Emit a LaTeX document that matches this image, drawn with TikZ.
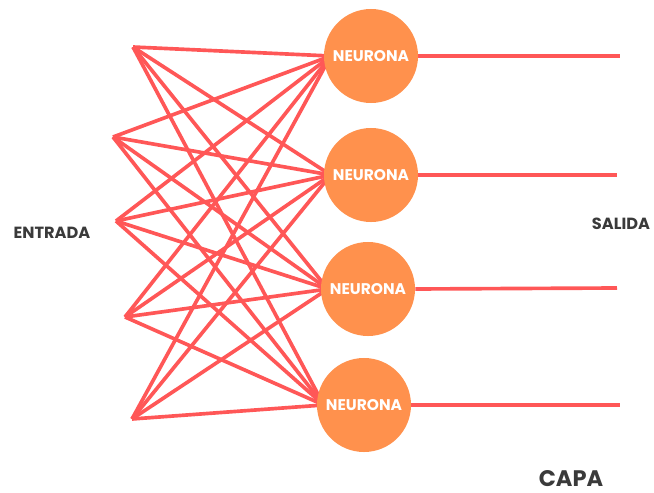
\documentclass[tikz,border=0pt]{standalone}
\usepackage{fontspec}
\setmainfont{Poppins}
\usetikzlibrary{backgrounds}
\definecolor{linea}{HTML}{FF5757}
\definecolor{naranja}{HTML}{FF914D}
\definecolor{texto}{HTML}{3A3A3A}
\begin{document}
\begin{tikzpicture}[x=0.025cm,y=-0.025cm,
    neurona/.style={circle,fill=naranja,inner sep=0pt,minimum size=2.35cm,
      text=white,font=\bfseries\fontsize{11}{13}\selectfont},
    enlace/.style={draw=linea,line width=2.6pt},
    rotulo/.style={text=texto,font=\bfseries\fontsize{11.5}{14}\selectfont}]
  \useasboundingbox (0,0) rectangle (654,493);
  % entradas
  \coordinate (i1) at (133,47);
  \coordinate (i2) at (113,137);
  \coordinate (i3) at (116,221);
  \coordinate (i4) at (125,317);
  \coordinate (i5) at (132,419);
  % neuronas
  \node[neurona] (n1) at (371,56) {NEURONA};
  \node[neurona] (n2) at (371,175) {NEURONA};
  \node[neurona] (n3) at (368,289) {NEURONA};
  \node[neurona] (n4) at (364,405) {NEURONA};
  % salidas
  \coordinate (o1) at (620,56);
  \coordinate (o2) at (617,175);
  \coordinate (o3) at (617,288);
  \coordinate (o4) at (620,405);
  \begin{pgfonlayer}{background}
    \foreach \i in {1,...,5}
      \foreach \n in {1,...,4}
        \draw[enlace] (i\i) -- ([xshift=5pt]n\n.west);
  \end{pgfonlayer}
  \foreach \n in {1,...,4}
    \draw[enlace] (n\n.east) -- (o\n);
  \node[rotulo] (entrada) at (52,233) {ENTRADA};
  \node[rotulo] (salida) at (621,224) {SALIDA};
  \node[rotulo,font=\bfseries\fontsize{16}{19}\selectfont] (capa) at (571,479) {CAPA};
\end{tikzpicture}
\end{document}
